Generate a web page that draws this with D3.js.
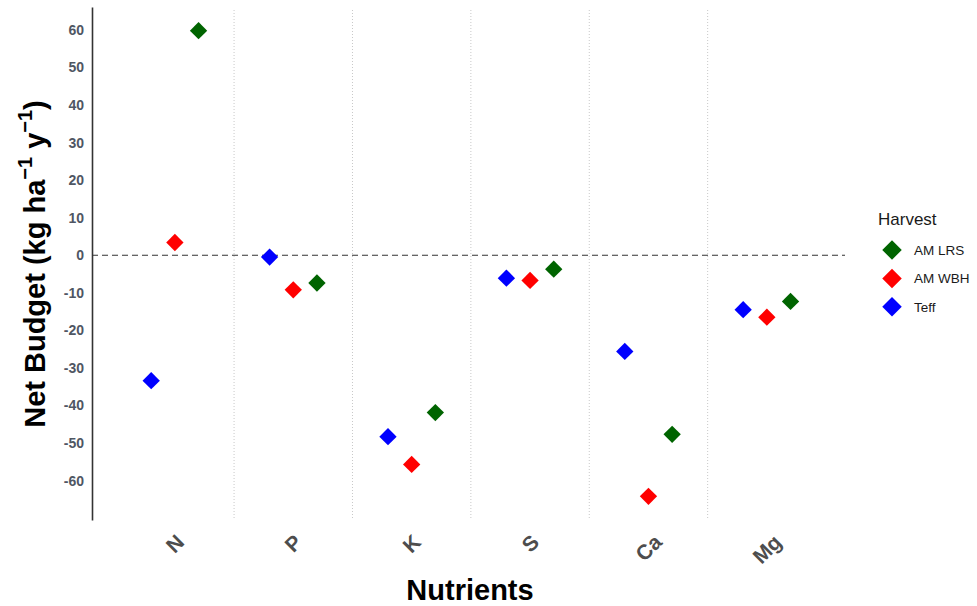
<!DOCTYPE html>
<html>
<head>
<meta charset="utf-8">
<script src="https://cdn.jsdelivr.net/npm/d3@7"></script>
<style>
  body { margin: 0; background: #fff; }
  svg { font-family: "Liberation Sans", Arial, sans-serif; }
</style>
</head>
<body>
<svg id="chart" width="977" height="606"></svg>
<script>
var nutrients = ["N", "P", "K", "S", "Ca", "Mg"];
var harvests = ["AM LRS", "AM WBH", "Teff"];
var colors = ["#006400", "#ff0000", "#0000ff"];

// net budget, kg/ha/y
var amLrs = [59.8, -7.4, -41.9, -3.7, -47.7, -12.3];
var amWbh = [3.4, -9.2, -55.7, -6.7, -64.2, -16.5];
var teff  = [-33.4, -0.5, -48.3, -6.1, -25.6, -14.5];

var yTicks = [-60, -50, -40, -30, -20, -10, 0, 10, 20, 30, 40, 50, 60];

var series = [
  { name: harvests[0], values: amLrs },
  { name: harvests[1], values: amWbh },
  { name: harvests[2], values: teff }
];

var svg = d3.select("#chart");

var x = d3.scaleLinear().domain([0.3, 6.66]).range([92, 845]);
var y = d3.scaleLinear().domain([-70.5, 66.1]).range([520, 7]);
var color = d3.scaleOrdinal().domain(harvests).range(colors);
// dodge: Teff left, AM WBH middle, AM LRS right
var dodge = d3.scalePoint().domain(["Teff", "AM WBH", "AM LRS"]).range([-0.2, 0.2]);

// separators between nutrients
svg.append("g").selectAll("line")
  .data(d3.range(1.5, nutrients.length, 1))
  .join("line")
  .attr("x1", d => x(d)).attr("x2", d => x(d))
  .attr("y1", 10).attr("y2", 520)
  .attr("stroke", "#c8c8c8")
  .attr("stroke-width", 1)
  .attr("stroke-dasharray", "1,2");

// zero line
svg.append("line")
  .attr("x1", x(0.3)).attr("x2", x(6.66))
  .attr("y1", y(0)).attr("y2", y(0))
  .attr("stroke", "#333")
  .attr("stroke-width", 1.2)
  .attr("stroke-dasharray", "6,4");

// y axis
var yAxis = svg.append("g")
  .attr("transform", "translate(92,0)")
  .call(d3.axisLeft(y).tickValues(yTicks).tickSize(0).tickPadding(8).tickFormat(d => String(d)));
yAxis.select(".domain").attr("stroke", "#333").attr("stroke-width", 1.6);
yAxis.selectAll("text")
  .attr("fill", "#4f5663")
  .style("font-size", "14px")
  .style("font-weight", "bold");

// x tick labels, rotated 45
var xl = svg.append("g").selectAll("text")
  .data(nutrients)
  .join("text")
  .text(d => d)
  .attr("fill", "#4d4d4d")
  .style("font-size", "21px")
  .style("font-weight", "bold")
  .attr("text-anchor", "middle")
  .attr("dominant-baseline", "central");
xl.each(function(d, i) {
  var w = this.getComputedTextLength();
  var h = (w + 15) * Math.SQRT1_2;
  var cx = x(i + 1), cy = 533 + h / 2;
  d3.select(this).attr("x", cx).attr("y", cy)
    .attr("transform", "rotate(-45," + cx + "," + cy + ")");
});

// points
var diamond = d3.symbol().type(d3.symbolSquare).size(150);
series.forEach(function(s) {
  svg.append("g").selectAll("path")
    .data(s.values)
    .join("path")
    .attr("d", diamond)
    .attr("fill", color(s.name))
    .attr("transform", (v, i) => "translate(" + x(i + 1 + dodge(s.name)) + "," + y(v) + ") rotate(45)");
});

// axis titles
svg.append("text")
  .attr("x", 470).attr("y", 600)
  .attr("text-anchor", "middle")
  .style("font-size", "29px").style("font-weight", "bold")
  .text("Nutrients");

var yt = svg.append("text")
  .attr("transform", "translate(45,264) rotate(-90)")
  .attr("text-anchor", "middle")
  .style("font-size", "29px").style("font-weight", "bold");
yt.append("tspan").text("Net Budget (kg ha");
yt.append("tspan").attr("dy", -13).style("font-size", "20px").text("\u22121");
yt.append("tspan").attr("dy", 13).text(" y");
yt.append("tspan").attr("dy", -13).style("font-size", "20px").text("\u22121");
yt.append("tspan").attr("dy", 13).text(")");

// legend
var lg = svg.append("g");
lg.append("text").attr("x", 878).attr("y", 225)
  .style("font-size", "17px").attr("fill", "#1a1a1a").text("Harvest");
var item = lg.selectAll("g.item")
  .data(harvests)
  .join("g")
  .attr("class", "item")
  .attr("transform", (d, i) => "translate(892," + (250 + i * 28.4) + ")");
item.append("path")
  .attr("d", d3.symbol().type(d3.symbolSquare).size(190))
  .attr("transform", "rotate(45)")
  .attr("fill", d => color(d));
item.append("text")
  .attr("x", 22).attr("dy", "0.35em")
  .style("font-size", "13.5px").attr("fill", "#1a1a1a")
  .text(d => d);
</script>
</body>
</html>
